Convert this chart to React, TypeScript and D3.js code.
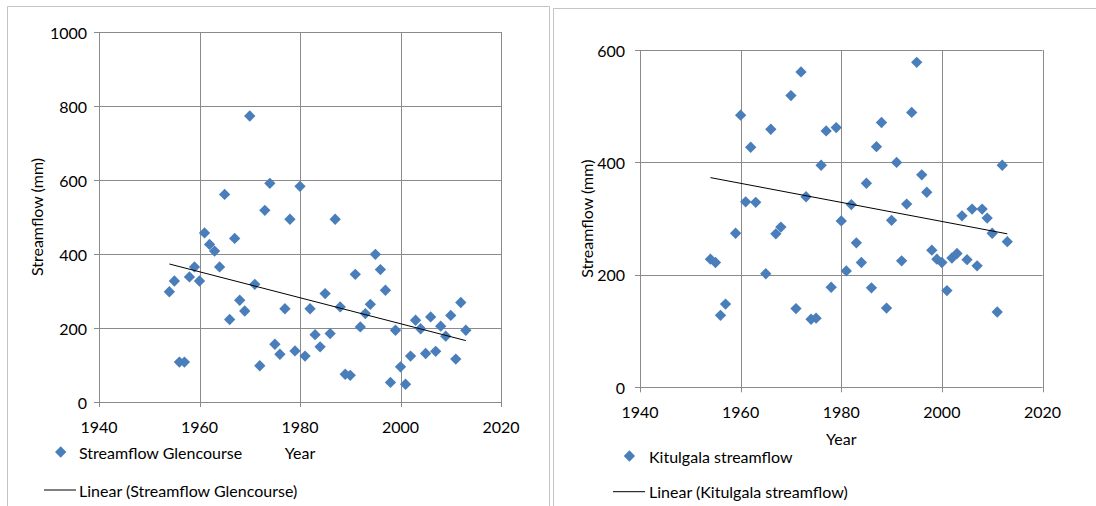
import React from "react";
import * as d3 from "d3";

// ---------- Data ----------
const glencourseYears = [
  1954, 1955, 1956, 1957, 1958, 1959, 1960, 1961, 1962, 1963, 1964, 1965, 1966, 1967, 1968,
  1969, 1970, 1971, 1972, 1973, 1974, 1975, 1976, 1977, 1978, 1979, 1980, 1981, 1982, 1983,
  1984, 1985, 1986, 1987, 1988, 1989, 1990, 1991, 1992, 1993, 1994, 1995, 1996, 1997, 1998,
  1999, 2000, 2001, 2002, 2003, 2004, 2005, 2006, 2007, 2008, 2009, 2010, 2011, 2012, 2013,
];
const glencourseFlow = [
  298, 327, 108, 108, 338, 365, 327, 457, 426, 408, 365, 561, 223, 442, 275,
  246, 773, 318, 98, 518, 591, 156, 129, 252, 494, 138, 583, 124, 252, 182,
  149, 293, 185, 494, 257, 75, 72, 345, 203, 239, 264, 399, 358, 302, 53,
  194, 95, 48, 124, 221, 198, 131, 230, 137, 205, 178, 234, 116, 269, 194,
];
// linear trendline end points
const glencourseTrendYears = [1954, 2013];
const glencourseTrendFlow = [373, 166];

const kitulgalaYears = [
  1954, 1955, 1956, 1957, 1959, 1960, 1961, 1962, 1963, 1965, 1966, 1967, 1968, 1970, 1971,
  1972, 1973, 1974, 1975, 1976, 1977, 1978, 1979, 1980, 1981, 1982, 1983, 1984, 1985, 1986,
  1987, 1988, 1989, 1990, 1991, 1992, 1993, 1994, 1995, 1996, 1997, 1998, 1999, 2000, 2001,
  2002, 2003, 2004, 2005, 2006, 2007, 2008, 2009, 2010, 2011, 2012, 2013,
];
const kitulgalaFlow = [
  228, 222, 128, 148, 274, 484, 330, 427, 329, 202, 459, 273, 285, 519, 140,
  561, 339, 121, 123, 395, 456, 178, 462, 296, 207, 325, 257, 222, 363, 177,
  428, 471, 141, 297, 400, 225, 326, 489, 578, 378, 347, 244, 228, 222, 172,
  230, 238, 305, 227, 317, 216, 317, 301, 274, 134, 395, 259,
];
const kitulgalaTrendYears = [1954, 2013];
const kitulgalaTrendFlow = [373, 273];

const xTicks = [1940, 1960, 1980, 2000, 2020];
const glencourseYTicks = [0, 200, 400, 600, 800, 1000];
const kitulgalaYTicks = [0, 200, 400, 600];

const seriesGlencourse = "Streamflow Glencourse";
const trendGlencourse = "Linear (Streamflow Glencourse)";
const seriesKitulgala = "Kitulgala streamflow";
const trendKitulgala = "Linear (Kitulgala streamflow)";
const yTitle = "Streamflow (mm)";
const xTitle = "Year";

// ---------- Styles ----------
const FONT = "Lato, Carlito, 'Open Sans', sans-serif";
const BLUE = "#4A7EBB";
const GRID = "#8a8a8a";
const BORDER = "#c4c4c4";
const FS = 16;

type PanelProps = {
  years: number[];
  flow: number[];
  trendYears: number[];
  trendFlow: number[];
  yTicks: number[];
  plot: { x0: number; x1: number; y0: number; y1: number };
  yLabelGap: number;
  yTitleX: number;
  yearY: number;
  seriesName: string;
  trendName: string;
  marker: { x: number; y: number };
  textX: number;
  trendLeg: { x0: number; x1: number; y: number };
};

const diamond = d3.symbol(d3.symbolSquare, 64)();

function Panel(p: PanelProps) {
  const x = d3.scaleLinear().domain([xTicks[0], xTicks[xTicks.length - 1]]).range([p.plot.x0, p.plot.x1]);
  const y = d3.scaleLinear().domain([0, p.yTicks[p.yTicks.length - 1]]).range([p.plot.y1, p.plot.y0]);
  const trendLine = d3
    .line<number>()
    .x((d) => x(p.trendYears[d]))
    .y((d) => y(p.trendFlow[d]))(p.trendYears.map((_, i) => i));
  const midX = (p.plot.x0 + p.plot.x1) / 2;
  const midY = (p.plot.y0 + p.plot.y1) / 2;
  return (
    <g fontFamily={FONT} fontSize={FS} fill="#000">
      {/* grid */}
      {p.yTicks.map((t) => (
        <line key={"gy" + t} x1={p.plot.x0 - 5} x2={p.plot.x1} y1={Math.round(y(t)) + 0.5} y2={Math.round(y(t)) + 0.5} stroke={GRID} strokeWidth={1} />
      ))}
      {xTicks.map((t) => (
        <line key={"gx" + t} x1={Math.round(x(t)) + 0.5} x2={Math.round(x(t)) + 0.5} y1={p.plot.y0} y2={p.plot.y1 + 5} stroke={GRID} strokeWidth={1} />
      ))}
      {/* tick labels */}
      {p.yTicks.map((t) => (
        <text key={"ly" + t} x={p.plot.x0 - p.yLabelGap} y={y(t)} textAnchor="end" dominantBaseline="central">
          {t}
        </text>
      ))}
      {xTicks.map((t) => (
        <text key={"lx" + t} x={x(t)} y={p.plot.y1 + 24} textAnchor="middle" dominantBaseline="central">
          {t}
        </text>
      ))}
      {/* axis titles */}
      <text transform={`translate(${p.yTitleX},${midY}) rotate(-90)`} textAnchor="middle" dominantBaseline="central">
        {yTitle}
      </text>
      <text x={midX} y={p.yearY} textAnchor="middle" dominantBaseline="central">
        {xTitle}
      </text>
      {/* points */}
      {p.years.map((yr, i) => (
        <path key={"pt" + i} d={diamond!} transform={`translate(${x(yr)},${y(p.flow[i])}) rotate(45)`} fill={BLUE} />
      ))}
      {/* trend */}
      <path d={trendLine!} fill="none" stroke="#000" strokeWidth={1} />
      {/* legend */}
      <path d={diamond!} transform={`translate(${p.marker.x},${p.marker.y}) rotate(45)`} fill={BLUE} />
      <text x={p.textX} y={p.marker.y} dominantBaseline="central">
        {p.seriesName}
      </text>
      <line x1={p.trendLeg.x0} x2={p.trendLeg.x1} y1={p.trendLeg.y} y2={p.trendLeg.y} stroke="#000" strokeWidth={1} />
      <text x={p.textX} y={p.trendLeg.y} dominantBaseline="central">
        {p.trendName}
      </text>
    </g>
  );
}

export default function App() {
  return (
    <svg width={1096} height={506} style={{ position: "absolute", left: 0, top: 0, background: "#fff" }}>
      <rect x={0} y={0} width={1096} height={506} fill="#fff" />
      <path d="M7.5,506 V6.5 H549.5 V506" fill="none" stroke={BORDER} />
      <path d="M553.5,506 V8.5 H1096" fill="none" stroke={BORDER} />
      <Panel
        years={glencourseYears}
        flow={glencourseFlow}
        trendYears={glencourseTrendYears}
        trendFlow={glencourseTrendFlow}
        yTicks={glencourseYTicks}
        plot={{ x0: 99, x1: 501, y0: 32, y1: 402 }}
        yLabelGap={12}
        yTitleX={36.5}
        yearY={452}
        seriesName={seriesGlencourse}
        trendName={trendGlencourse}
        marker={{ x: 60.7, y: 452 }}
        textX={79}
        trendLeg={{ x0: 44, x1: 76, y: 490 }}
      />
      <Panel
        years={kitulgalaYears}
        flow={kitulgalaFlow}
        trendYears={kitulgalaTrendYears}
        trendFlow={kitulgalaTrendFlow}
        yTicks={kitulgalaYTicks}
        plot={{ x0: 640, x1: 1042.5, y0: 50, y1: 387.3 }}
        yLabelGap={15}
        yTitleX={586.6}
        yearY={438}
        seriesName={seriesKitulgala}
        trendName={trendKitulgala}
        marker={{ x: 629.4, y: 456 }}
        textX={649}
        trendLeg={{ x0: 613, x1: 645, y: 491.7 }}
      />
    </svg>
  );
}
